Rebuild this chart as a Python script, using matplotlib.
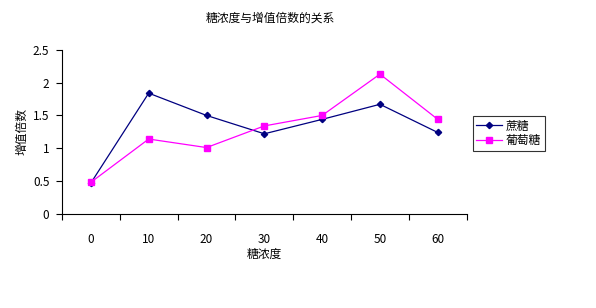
import numpy as np
import matplotlib.pyplot as plt

plt.rcParams['font.family'] = ['Noto Sans CJK SC', 'DejaVu Sans']

concentration = ['0', '10', '20', '30', '40', '50', '60']
sucrose = [0.47, 1.84, 1.50, 1.22, 1.44, 1.67, 1.24]
glucose = [0.48, 1.14, 1.01, 1.34, 1.50, 2.13, 1.44]

fig = plt.figure(figsize=(5.96, 3.08), dpi=100)
ax = fig.add_axes([0.104, 0.306, 0.679, 0.532])

x = np.arange(len(concentration))
ax.plot(x, sucrose, color='#000080', marker='D', markersize=3.2, lw=0.9, label='蔗糖')
ax.plot(x, glucose, color='#FF00FF', marker='s', markersize=3.8, lw=0.9, label='葡萄糖')

ax.set_xlim(-0.5, len(concentration) - 0.5)
ax.set_ylim(0, 2.5)
ax.set_yticks([0, 0.5, 1, 1.5, 2, 2.5])
ax.set_yticklabels(['0', '0.5', '1', '1.5', '2', '2.5'])
ax.set_xticks(x)
ax.set_xticklabels(concentration)
ax.set_xticks(np.arange(-0.5, len(concentration)), minor=True)
ax.tick_params(axis='x', which='major', length=0, pad=14, labelsize=8.5)
ax.tick_params(axis='x', which='minor', length=4, direction='out', width=0.8)
ax.tick_params(axis='y', length=4, direction='out', width=0.8, labelsize=8.5, pad=5)

for s in ['top', 'right']:
    ax.spines[s].set_visible(False)
for s in ['left', 'bottom']:
    ax.spines[s].set_linewidth(0.8)

ax.set_xlabel('糖浓度', fontsize=8.5, labelpad=1)
ax.set_ylabel('增值倍数', fontsize=8.5, labelpad=3)
fig.text(0.453, 0.94, '糖浓度与增值倍数的关系', ha='center', va='center', fontsize=8.5)

leg = ax.legend(loc='center left', bbox_to_anchor=(1.015, 0.49), fontsize=8.5,
                frameon=True, fancybox=False, edgecolor='black', handlelength=2.2,
                borderpad=0.3, labelspacing=0.15, handletextpad=0.3, borderaxespad=0)
leg.get_frame().set_linewidth(0.8)

plt.savefig('out.png', dpi=100)
